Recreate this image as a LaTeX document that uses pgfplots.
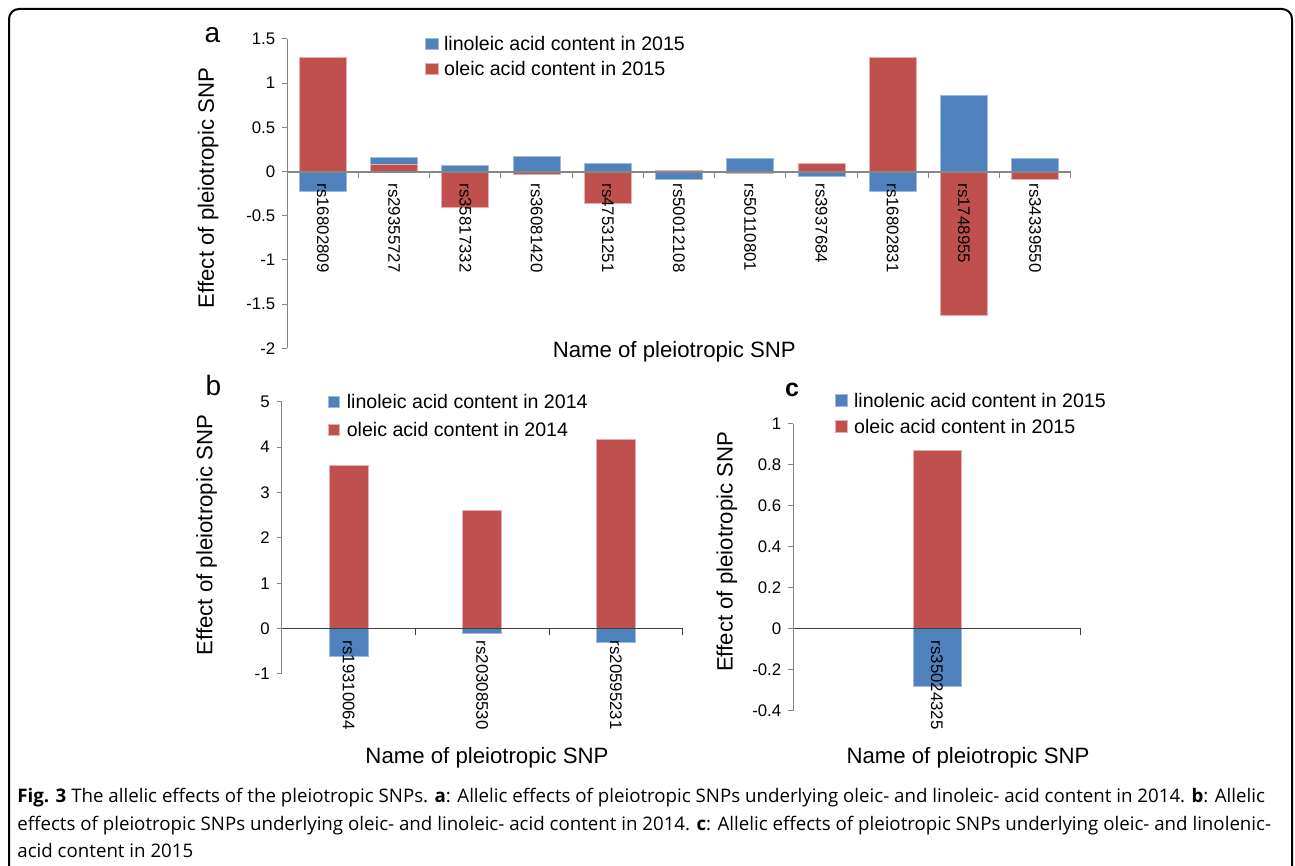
\documentclass[border=0pt]{standalone}
\usepackage{fontspec}
\setmainfont{Liberation Sans}
\newfontfamily\capfont{Open Sans}
\usepackage{pgfplots}
\usepackage{pgfplotstable}
\pgfplotsset{compat=1.18}
\definecolor{xblue}{HTML}{4F81BD}
\definecolor{xred}{HTML}{C0504D}
\definecolor{axgray}{HTML}{868686}
\definecolor{axdark}{HTML}{404040}

\pgfplotstableread{
x lin ole
0 -0.226 1.294
1 0.155 0.079
2 0.064 -0.403
3 0.170 -0.037
4 0.095 -0.365
5 -0.090 0.010
6 0.144 -0.026
7 -0.057 0.087
8 -0.226 1.290
9 0.860 -1.628
10 0.144 -0.090
}\tabA
\pgfplotstableread{
x lin ole
0 -0.604 3.605
1 -0.100 2.600
2 -0.295 4.165
}\tabB
\pgfplotstableread{
x lin ole
0 -0.279 0.871
}\tabC

\pgfplotsset{
  snpbase/.style={
    scale only axis, anchor=south west, axis on top,
    axis y line=left, axis x line=middle,
    axis line style={-},
    enlargelimits=false, clip=false,
    xtick style={draw=none},
    ytick align=outside, ytick style={axgray, line width=0.5pt}, major tick length=2.5pt,
    tick label style={font=\fontsize{8.4}{10}\selectfont},
    /pgf/number format/assume math mode=true,
    xticklabel style={rotate=-90, anchor=west, inner xsep=4.6pt},
    label style={font=\fontsize{11.1}{13}\selectfont},
    ylabel={Effect of pleiotropic SNP},
    xlabel={Name of pleiotropic SNP},
    legend cell align=left,
    hide obscured x ticks=false,
    y axis line style={axgray, line width=0.6pt},
  },
  bluebar/.style={ybar, bar shift=0pt, fill=xblue, draw=xblue!55!white, line width=0.4pt},
  redbar/.style={ybar, bar shift=0pt, fill=xred, draw=xred!45!white, line width=0.4pt},
}

\begin{document}
\begin{tikzpicture}
\useasboundingbox (0,0) rectangle (647.5pt,433pt);
\begin{scope}
\clip (0,0) rectangle (647.5pt,433pt);
\draw[line width=1pt, rounded corners=5pt] (4.5pt,-10pt) rectangle (646pt,428.5pt);
\end{scope}

% panel a
\begin{axis}[snpbase,
  at={(143.65pt,258.85pt)}, width=391.7pt, height=154.65pt,
  xmin=-0.5, xmax=10.5, ymin=-2, ymax=1.5,
  ytick={-2,-1.5,-1,-0.5,0,0.5,1,1.5},
  xtick={0,1,2,3,4,5,6,7,8,9,10},
  xticklabels={rs16802809,rs29355727,rs35817332,rs36081420,rs47531251,rs50012108,rs50110801,rs3937684,rs16802831,rs1748955,rs34339550},
  x axis line style={axgray, line width=1pt},
  ylabel style={at={(axis description cs:-0.101,0.518)}, anchor=center},
  xlabel style={at={(axis description cs:0.494,-0.012)}, anchor=center},
  legend style={at={(axis description cs:0.1758,1.0065)}, anchor=north west,
    draw=none, fill=none, inner sep=0pt, outer sep=0pt, row sep=5.5pt, column sep=2.5pt,
    nodes={inner sep=0pt, text height=7pt, text depth=0pt, font=\fontsize{9.8}{11}\selectfont}},
  legend image code/.code={\fill[#1] (0pt,-2.9pt) rectangle (6.65pt,2.95pt);},
]
\addplot[bluebar, bar width=0.66] table[x=x,y=lin]{\tabA};
\addplot[redbar, bar width=0.66] table[x=x,y=ole]{\tabA};
\legend{linoleic acid content in 2015, oleic acid content in 2015}
\pgfplotsinvokeforeach{0.5,1.5,2.5,3.5,4.5,5.5,6.5,7.5,8.5,9.5,10.5}{
  \draw[axgray, line width=0.5pt] (axis cs:#1,0) -- ++(0pt,-3pt);
}
\end{axis}

% panel b
\begin{axis}[snpbase,
  at={(140.85pt,96pt)}, width=200.5pt, height=136.15pt,
  xmin=-0.5, xmax=2.5, ymin=-1, ymax=5,
  ytick={-1,0,1,2,3,4,5},
  xtick={0,1,2},
  xticklabels={rs19310064,rs20308530,rs20595231},
  x axis line style={axdark, line width=0.6pt},
  ylabel style={at={(axis description cs:-0.187,0.510)}, anchor=center},
  xlabel style={at={(axis description cs:0.512,-0.308)}, anchor=center},
  legend style={at={(axis description cs:0.1155,1.0257)}, anchor=north west,
    draw=none, fill=none, inner sep=0pt, outer sep=0pt, row sep=7.15pt, column sep=3.5pt,
    nodes={inner sep=0pt, text height=7pt, text depth=0pt, font=\fontsize{9.8}{11}\selectfont}},
  legend image code/.code={\fill[#1] (0pt,-2.7pt) rectangle (5.5pt,2.7pt);},
]
\addplot[bluebar, bar width=0.29] table[x=x,y=lin]{\tabB};
\addplot[redbar, bar width=0.29] table[x=x,y=ole]{\tabB};
\legend{linoleic acid content in 2014, oleic acid content in 2014}
\pgfplotsinvokeforeach{0.5,1.5,2.5}{
  \draw[axdark, line width=0.5pt] (axis cs:#1,0) -- ++(0pt,-3pt);
}
\end{axis}

% panel c
\begin{axis}[snpbase,
  at={(396.65pt,77.65pt)}, width=143.7pt, height=143.35pt,
  xmin=-0.5, xmax=0.5, ymin=-0.4, ymax=1,
  ytick={-0.4,-0.2,0,0.2,0.4,0.6,0.8,1},
  xtick={0},
  xticklabels={rs35024325},
  x axis line style={axdark, line width=0.6pt},
  ylabel style={at={(axis description cs:-0.231,0.554)}, anchor=center},
  xlabel style={at={(axis description cs:0.608,-0.165)}, anchor=center},
  legend style={at={(axis description cs:0.1451,1.1057)}, anchor=north west,
    draw=none, fill=none, inner sep=0pt, outer sep=0pt, row sep=6pt, column sep=3.3pt,
    nodes={inner sep=0pt, text height=7pt, text depth=0pt, font=\fontsize{9.8}{11}\selectfont}},
  legend image code/.code={\fill[#1] (0pt,-3.1pt) rectangle (5.85pt,3.1pt);},
]
\addplot[bluebar, bar width=0.167] table[x=x,y=lin]{\tabC};
\addplot[redbar, bar width=0.167] table[x=x,y=ole]{\tabC};
\legend{linolenic acid content in 2015, oleic acid content in 2015}
\pgfplotsinvokeforeach{0.5}{
  \draw[axdark, line width=0.5pt] (axis cs:#1,0) -- ++(0pt,-3pt);
}
\end{axis}

% panel letters
\node at (106.25pt,415.5pt) {\fontsize{14}{16}\selectfont a};
\node at (106.75pt,240pt) {\fontsize{14}{16}\selectfont b};
\node at (396pt,238.25pt) {\fontsize{12.5}{14}\selectfont\bfseries c};

% caption
\node[anchor=base west, inner sep=0pt] at (8.5pt,31.5pt) {\parbox[t]{635pt}{\raggedright\capfont\fontsize{9.35}{13.75}\selectfont
\textbf{Fig. 3} The allelic effects of the pleiotropic SNPs. \textbf{a}: Allelic effects of pleiotropic SNPs underlying oleic- and linoleic- acid content in 2014. \textbf{b}: Allelic\\
effects of pleiotropic SNPs underlying oleic- and linoleic- acid content in 2014. \textbf{c}: Allelic effects of pleiotropic SNPs underlying oleic- and linolenic-\\
acid content in 2015}};
\end{tikzpicture}
\end{document}
